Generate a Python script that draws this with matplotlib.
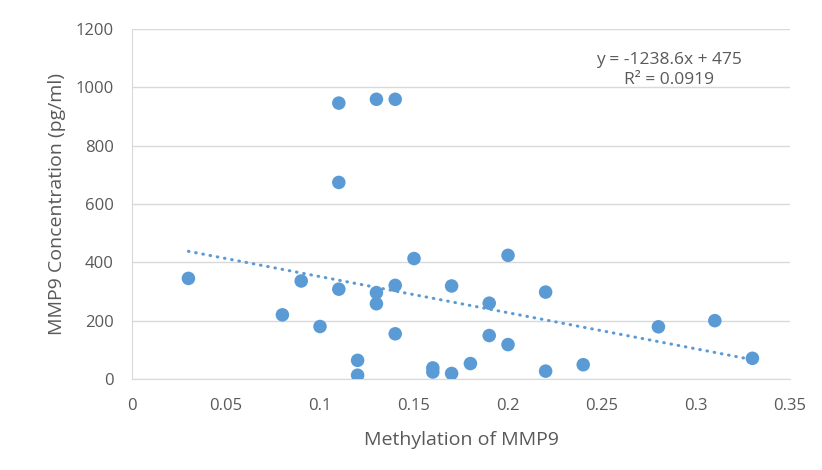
import matplotlib.pyplot as plt
import numpy as np

# ===== data =====
methylation = [0.03, 0.08, 0.09, 0.10, 0.11, 0.11, 0.11, 0.12, 0.12, 0.13, 0.13,
               0.13, 0.14, 0.14, 0.14, 0.15, 0.16, 0.16, 0.17, 0.17, 0.18, 0.19,
               0.19, 0.20, 0.20, 0.22, 0.22, 0.24, 0.28, 0.31, 0.33]
mmp9_conc = [345, 220, 336, 180, 308, 674, 946, 64, 13, 296, 258,
             959, 959, 321, 155, 413, 38, 24, 319, 19, 53, 260,
             149, 424, 118, 298, 27, 49, 179, 200, 71]

slope = -1238.6
intercept = 475
eq_label = "y = -1238.6x + 475"
r2_label = "R² = 0.0919"

x_ticks = [0, 0.05, 0.1, 0.15, 0.2, 0.25, 0.3, 0.35]
x_ticklabels = ["0", "0.05", "0.1", "0.15", "0.2", "0.25", "0.3", "0.35"]
y_ticks = [0, 200, 400, 600, 800, 1000, 1200]

blue = "#5B9BD5"
gray = "#595959"
light = "#D9D9D9"

plt.rcParams['font.family'] = ['Open Sans', 'DejaVu Sans']

fig = plt.figure(figsize=(8.22, 4.70), dpi=100)
ax = fig.add_axes([0.1606, 0.1936, 0.8005, 0.7447])

# 点
ax.scatter(methylation, mmp9_conc, s=95, color=blue, edgecolors='none', zorder=3)

# 近似直線
tx = np.array([min(methylation), max(methylation)])
ax.plot(tx, slope * tx + intercept, color=blue, linestyle=(0, (0.2, 2.2)),
        linewidth=2.2, dash_capstyle='round', zorder=2)

ax.text(0.2855, 1094, eq_label, ha='center', va='center', fontsize=12.5, color=gray)
ax.text(0.2855, 1025, r2_label, ha='center', va='center', fontsize=12.5, color=gray)

ax.set_xlim(0, 0.35)
ax.set_ylim(0, 1200)
ax.set_xticks(x_ticks)
ax.set_xticklabels(x_ticklabels)
ax.set_yticks(y_ticks)
ax.tick_params(axis='both', length=0, labelsize=12, colors=gray)
ax.tick_params(axis='y', pad=13)
ax.tick_params(axis='x', pad=14)
ax.grid(axis='y', color=light, linewidth=1.0)
ax.set_axisbelow(True)
for s in ("top", "right"):
    ax.spines[s].set_visible(False)
ax.spines["bottom"].set_color(light)
ax.spines["left"].set_color(light)

ax.set_xlabel("Methylation of MMP9", fontsize=14, color=gray, labelpad=12)
ax.set_ylabel("MMP9 Concentration (pg/ml)", fontsize=14, color=gray, labelpad=7)

plt.savefig("out.png", dpi=100)
plt.close()
